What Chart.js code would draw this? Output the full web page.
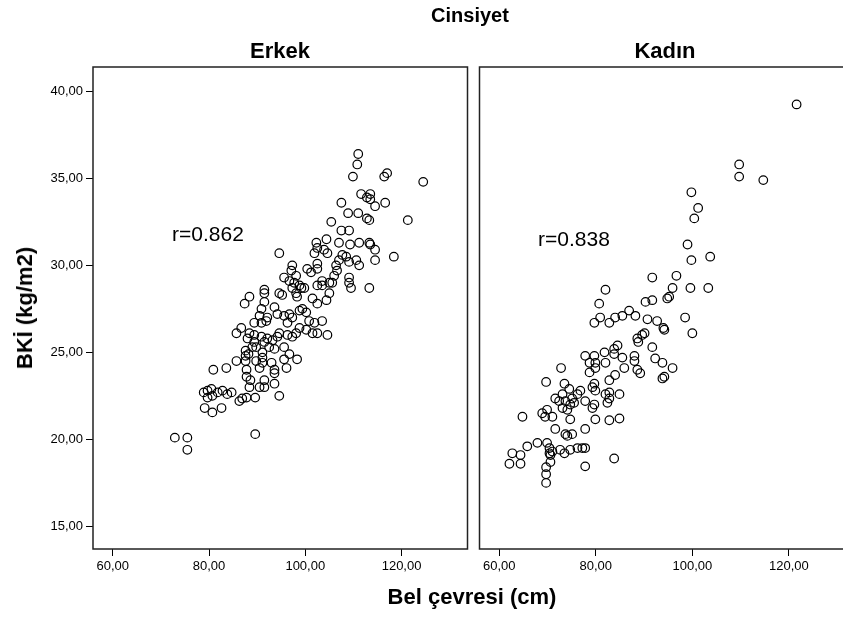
<!DOCTYPE html>
<html>
<head>
<meta charset="utf-8">
<script src="https://cdn.jsdelivr.net/npm/chart.js@4.4.1/dist/chart.umd.min.js"></script>
<style>
html, body { margin: 0; padding: 0; background: #fff; }
body { width: 843px; height: 617px; overflow: hidden; position: relative; font-family: "Liberation Sans", Arial, sans-serif; }
.lbl { position: absolute; transform: translate(-50%, -50%); white-space: nowrap; line-height: 1; color: #000; }
.bold { font-weight: bold; }
#leftChart { position: absolute; left: 0; top: 0; }
#rightChart { position: absolute; left: 474px; top: 0; }
</style>
</head>
<body>
<canvas id="leftChart" width="473" height="617"></canvas>
<canvas id="rightChart" width="395" height="617"></canvas>

<div class="lbl bold" style="left:470px; top:15px; font-size:20px;">Cinsiyet</div>
<div class="lbl bold" style="left:280px; top:51px; font-size:22px;">Erkek</div>
<div class="lbl bold" style="left:665px; top:51px; font-size:22px;">Kadın</div>
<div class="lbl" style="left:208px; top:233px; font-size:21px;">r=0.862</div>
<div class="lbl" style="left:574px; top:238px; font-size:21px;">r=0.838</div>
<div class="lbl bold" style="left:472px; top:597px; font-size:22px;">Bel çevresi (cm)</div>
<div class="lbl bold" style="left:25px; top:308px; font-size:22px; transform:translate(-50%,-50%) rotate(-90deg);">BKİ (kg/m2)</div>

<script>
// ---------------------------------------------------------------
// DATA
// ---------------------------------------------------------------
const xTicks = [60, 80, 100, 120];
const yTicks = [15, 20, 25, 30, 35, 40];
const xMin = 55.9, xMax = 133.7;
const yMin = 13.7, yMax = 41.4;

// Erkek: bel çevresi (cm) / BKİ
const erkekBel = [
  72.9, 75.5, 75.5, 89.6, 78.9, 79.7, 80.5, 79.7, 80.7, 81.8, 82.8, 83.8, 84.7, 79.1, 80.7, 82.6,
  86.3, 86.9, 87.8, 89.6, 80.9, 83.6, 85.7, 87.6, 87.6, 87.6, 87.8, 87.8, 88.6, 88.4, 89.8, 90.5,
  91.1, 90.5, 91.5, 85.7, 86.7, 88.4, 88.0, 89.4, 89.4, 90.9, 91.5, 89.8, 89.0, 91.1, 87.4, 88.4,
  91.5, 91.5, 90.9, 90.5, 89.4, 90.9, 91.9, 88.2,
  94.6, 95.2, 97.3, 98.1, 99.2, 98.3, 101.5, 102.5, 104.4, 105.0, 102.5, 103.5, 105.6, 109.5, 113.3,
  93.6, 92.1, 94.2, 95.6, 96.7, 96.3, 97.3, 98.8, 99.4, 100.2, 100.8, 101.9, 103.5, 101.5, 102.5,
  104.6, 98.8, 100.2, 98.1, 97.3, 96.3, 94.6, 94.2, 93.2, 92.1, 92.5, 93.6, 95.6, 96.7, 95.6, 98.3,
  96.1, 91.1, 93.0, 93.6, 93.6, 91.5, 93.6, 94.6,
  111.0, 110.8, 109.9, 111.6, 112.8, 107.5, 108.9, 111.0, 112.8, 105.4, 107.5, 109.1, 104.4, 107.0,
  109.3, 111.2, 113.3, 102.3, 102.5, 103.9, 104.6, 101.9, 94.6, 107.7, 108.5, 107.0, 106.4, 106.6,
  106.0, 109.1, 110.6, 111.2, 102.5, 102.5, 101.2, 100.4, 97.3, 97.1, 98.1, 95.6, 96.7, 97.7, 98.8,
  99.8, 103.5, 105.0, 109.1, 109.1, 91.5,
  116.4, 117.0, 124.5, 113.5, 113.5, 114.5, 116.6, 113.3, 121.3, 113.5, 114.5, 114.5, 118.4
];
const erkekBki = [
  20.1, 20.1, 19.4, 20.3, 22.7, 22.8, 22.9, 22.4, 22.5, 22.7, 22.8, 22.6, 22.7, 21.8, 21.55, 21.8,
  22.2, 22.35, 22.4, 22.4, 24.0, 24.1, 24.5, 24.5, 24.8, 25.1, 24.0, 23.6, 23.4, 23.0, 24.5, 24.1,
  24.7, 23.0, 23.0, 26.1, 26.4, 26.1, 25.8, 26.0, 25.6, 25.9, 25.6, 25.3, 25.3, 25.0, 27.8, 28.2,
  28.4, 27.9, 27.5, 27.1, 26.7, 26.7, 26.8, 24.9,
  28.4, 28.3, 28.7, 28.4, 28.7, 28.2, 28.1, 27.8, 28.0, 28.4, 28.85, 28.85, 29.0, 28.7, 28.7,
  27.6, 27.0, 27.2, 27.1, 27.2, 26.7, 27.0, 27.4, 27.5, 27.3, 26.8, 26.7, 26.8, 26.1, 26.1,
  26.0, 26.4, 26.3, 26.1, 25.9, 26.0, 26.1, 25.9, 25.7, 25.8, 25.3, 25.2, 25.3, 24.9, 24.6, 24.6,
  24.1, 24.4, 24.4, 24.0, 23.8, 23.4, 23.2, 22.5,
  36.4, 35.8, 35.1, 34.1, 33.9, 33.6, 33.0, 33.0, 32.7, 32.5, 32.0, 32.0, 31.5, 31.3,
  31.2, 31.3, 31.3, 31.3, 31.0, 30.9, 30.7, 30.7, 30.7, 30.6, 30.5, 30.3, 30.0, 29.7,
  29.4, 30.2, 30.3, 30.0, 30.1, 29.8, 29.6, 29.8, 30.0, 29.7, 29.4, 29.3, 29.1, 29.0, 28.85,
  28.7, 29.1, 29.0, 29.3, 29.0, 28.6,
  35.1, 35.3, 34.8, 34.1, 33.8, 33.4, 33.6, 32.6, 32.6, 31.2, 30.9, 30.3, 30.5
];

// Kadın: bel çevresi (cm) / BKİ
const kadinBel = [
  121.6, 109.7, 109.7, 114.7, 99.8, 101.2, 100.4, 99.0, 99.8, 103.7, 96.7, 91.7, 82.0, 95.9, 99.6,
  103.3, 80.7, 90.3, 91.7, 94.8, 95.2, 80.9, 79.7, 82.8, 84.0, 85.5, 86.9, 88.2, 90.7, 92.7, 94.0,
  98.5, 100.0, 90.1, 89.6, 88.6, 94.2, 88.8, 91.7, 84.5, 83.8, 83.8, 81.8, 79.7, 85.5, 88.0, 88.0,
  92.3, 93.8, 95.9, 88.6, 89.2, 85.9, 84.0, 82.0, 79.9, 79.9, 78.7, 93.8, 94.2, 82.8, 79.7, 79.9,
  82.0, 82.8, 84.9, 82.8, 82.4, 79.7, 79.3, 79.9, 82.8, 84.9, 83.8,
  77.8, 78.7, 72.8, 69.7, 73.5, 74.5, 73.1, 71.6, 72.4, 73.7, 75.1, 76.2, 76.8, 79.3, 77.8, 73.1,
  74.1, 74.7, 75.5, 68.9, 69.9, 69.5, 71.0, 64.8, 74.7, 71.6, 73.7, 74.1, 75.1, 77.8, 65.8, 67.9,
  69.9, 70.4, 70.4, 71.0, 70.6, 72.6, 73.5, 74.7, 76.2, 77.2, 77.8, 62.7, 64.4, 62.1, 64.4, 69.7,
  70.6, 69.7, 69.7, 77.8
];
const kadinBki = [
  39.25, 35.8, 35.1, 34.9, 34.2, 33.3, 32.7, 31.2, 30.3, 30.5, 29.4, 29.3, 28.6, 28.7, 28.7,
  28.7, 27.8, 27.9, 28.0, 28.1, 28.2, 27.0, 26.7, 26.7, 27.0, 27.1, 27.4, 27.1, 26.9, 26.8, 26.4,
  27.0, 26.1, 26.1, 26.0, 25.8, 26.3, 25.6, 25.3, 25.4, 25.2, 24.9, 25.0, 24.8, 24.7, 24.8, 24.5,
  24.65, 24.4, 24.1, 24.0, 23.8, 24.1, 23.7, 24.4, 24.4, 24.1, 23.85, 23.5, 23.6, 23.4, 23.2, 22.8,
  22.6, 22.7, 22.6, 22.35, 22.1, 22.0, 21.8, 21.15, 21.1, 21.2, 18.9,
  24.8, 24.4, 24.1, 23.3, 23.2, 22.9, 22.6, 22.35, 22.2, 22.2, 22.35, 22.6, 22.8, 23.0, 22.2, 21.8,
  21.7, 22.0, 22.1, 21.5, 21.7, 21.3, 21.3, 21.3, 21.15, 20.6, 20.3, 20.2, 20.3, 20.6, 19.6, 19.8,
  19.8, 19.5, 19.2, 19.3, 19.1, 19.4, 19.2, 19.4, 19.5, 19.5, 19.5, 19.2, 19.1, 18.6, 18.6, 18.4,
  18.7, 18.0, 17.5, 18.45
];

// ---------------------------------------------------------------
// CHART HELPERS
// ---------------------------------------------------------------
const tickFont = { family: '"Liberation Sans", Arial, sans-serif', size: 13 };
const fmt = v => v.toFixed(2).replace('.', ',');

// draws the black frame round each panel
const panelBox = {
  id: 'panelBox',
  afterDatasetsDraw(chart) {
    const { ctx, chartArea: a } = chart;
    ctx.save();
    ctx.strokeStyle = '#222';
    ctx.lineWidth = 1.5;
    ctx.strokeRect(a.left, a.top, a.right - a.left, a.bottom - a.top);
    ctx.restore();
  }
};

function toPoints(xs, ys) {
  return xs.map((x, i) => ({ x: x, y: ys[i] }));
}

function makePanel(canvasId, xs, ys, showY, padding) {
  const ctx = document.getElementById(canvasId).getContext('2d');
  return new Chart(ctx, {
    type: 'scatter',
    data: {
      datasets: [{
        data: toPoints(xs, ys),
        pointStyle: 'circle',
        pointRadius: 4.3,
        pointBorderWidth: 1.2,
        pointBorderColor: '#000',
        pointBackgroundColor: 'rgba(0,0,0,0)'
      }]
    },
    options: {
      responsive: false,
      animation: false,
      layout: { padding: padding },
      plugins: { legend: { display: false }, tooltip: { enabled: false } },
      scales: {
        x: {
          type: 'linear',
          min: xMin,
          max: xMax,
          afterBuildTicks: s => { s.ticks = xTicks.map(v => ({ value: v })); },
          afterFit: s => { s.height = 30; },
          grid: { drawOnChartArea: false, drawTicks: true, tickLength: 7, color: '#000' },
          border: { display: false },
          ticks: { color: '#000', font: tickFont, padding: 3, maxRotation: 0, callback: v => fmt(v) }
        },
        y: {
          type: 'linear',
          display: showY,
          min: yMin,
          max: yMax,
          afterBuildTicks: s => { s.ticks = yTicks.map(v => ({ value: v })); },
          afterFit: s => { s.width = showY ? 93 : 0; },
          grid: { drawOnChartArea: false, drawTicks: true, tickLength: 7, color: '#000' },
          border: { display: false },
          ticks: { color: '#000', font: tickFont, padding: 3, callback: v => fmt(v) }
        }
      }
    },
    plugins: [panelBox]
  });
}

document.addEventListener('DOMContentLoaded', () => {
  makePanel('leftChart', erkekBel, erkekBki, true, { top: 67, right: 3, bottom: 38, left: 0 });
  makePanel('rightChart', kadinBel, kadinBki, false, { top: 67, right: 14, bottom: 38, left: 4 });
});
</script>
</body>
</html>
